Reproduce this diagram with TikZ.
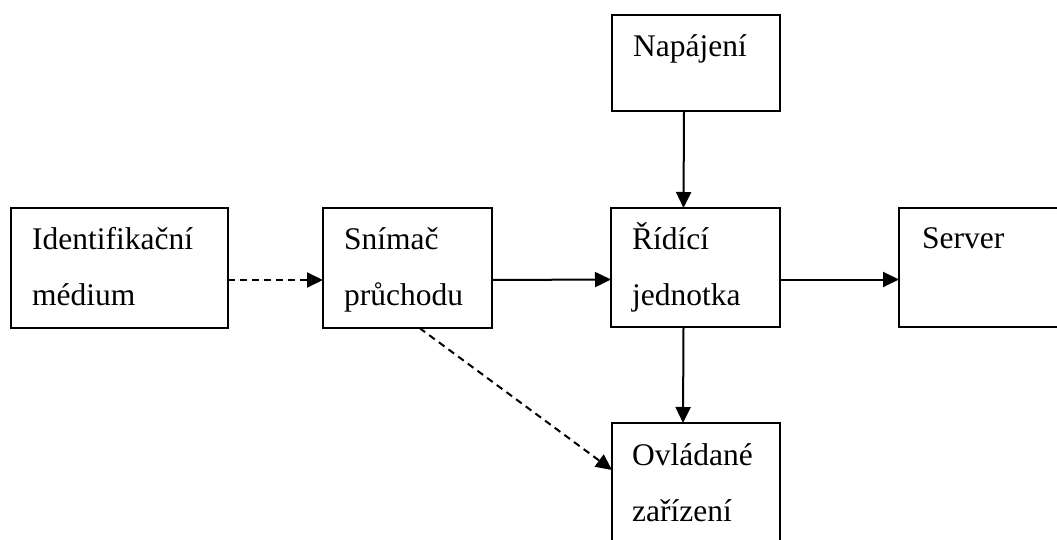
\documentclass[tikz,border=0pt]{standalone}
\usepackage{fontspec}
\setmainfont{Liberation Serif}
\usetikzlibrary{arrows.meta}
\begin{document}
\begin{tikzpicture}[x=1pt,y=-1pt,
  box/.style={draw,line width=2pt,inner sep=0pt,outer sep=0pt,anchor=north west},
  lbl/.style={anchor=base west,inner sep=0pt,align=left,font=\fontsize{31.5}{56}\selectfont},
  flow/.style={line width=2pt,-{Triangle[length=16pt,width=15pt]}},
  hint/.style={flow,dash pattern=on 7pt off 5pt}]
\clip (0,0) rectangle (1057,540);
% blocks
\node[box,minimum width=168pt,minimum height=96pt]  (nap) at (612,15)  {};
\node[box,minimum width=217pt,minimum height=120pt] (idm) at (11,208)  {};
\node[box,minimum width=169pt,minimum height=120pt] (sni) at (323,208) {};
\node[box,minimum width=169pt,minimum height=119pt] (rid) at (611,208) {};
\node[box,minimum width=180pt,minimum height=119pt] (srv) at (899,208) {};
\node[box,minimum width=168pt,minimum height=140pt] (ovl) at (612,423) {};
% block texts (base anchor = baseline of the last line)
\node[lbl] (napt) at (633,57)  {Napájení};
\node[lbl] (idmt) at (32,305)  {Identifikační\\médium};
\node[lbl] (snit) at (344,305) {Snímač\\průchodu};
\node[lbl] (ridt) at (632,305) {Řídící\\jednotka};
\node[lbl] (srvt) at (922,248) {Server};
\node[lbl] (ovlt) at (632,521) {Ovládané\\zařízení};
% connections
\draw[flow] ([xshift=-12pt]nap.south) -- ([xshift=-12pt]rid.north);
\draw[hint] ([yshift=-12pt]idm.east) -- ([yshift=-12pt]sni.west);
\draw[flow] ([yshift=-12pt]sni.east) -- ([yshift=-12pt]rid.west);
\draw[flow] ([yshift=-12pt]rid.east) -- ([yshift=-12pt]srv.west);
\draw[flow] ([xshift=-12pt]rid.south) -- ([xshift=-13pt]ovl.north);
\draw[hint] ([xshift=12pt]sni.south) -- ([yshift=-47pt]ovl.north west);
\end{tikzpicture}
\end{document}
